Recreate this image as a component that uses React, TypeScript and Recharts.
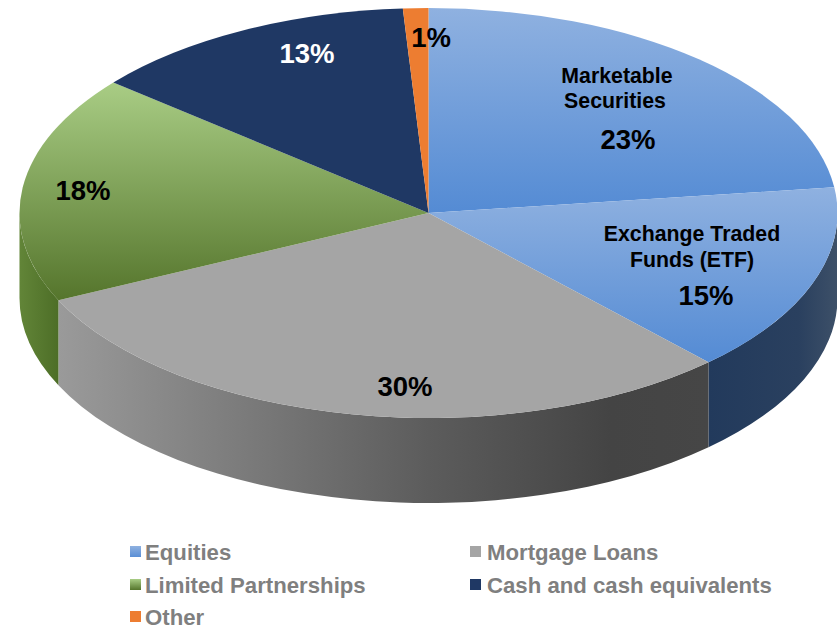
import { Legend, Pie, PieChart } from 'recharts'

const sliceNames = [
  'Marketable Securities',
  'Exchange Traded Funds (ETF)',
  'Mortgage Loans',
  'Limited Partnerships',
  'Cash and cash equivalents',
  'Other'
]
const sliceValues = [23, 15, 30, 18, 13, 1]

const legendNames = ['Equities', 'Mortgage Loans', 'Limited Partnerships', 'Cash and cash equivalents', 'Other']

const chartData = sliceNames.map((name, i) => ({ name, value: sliceValues[i] }))

const TILT = 0.501
const DEPTH = 85
const FONT = '"Liberation Sans", Arial, sans-serif'

const topFills = ['url(#blueTop)', 'url(#blueTop)', '#a5a5a5', 'url(#greenTop)', '#1f3864', '#ed7d31']
const wallFills = ['#223a5c', 'url(#blueWall)', 'url(#grayWall)', 'url(#greenWall)', '#1f3864', '#ed7d31']
const legendSwatches = [
  'linear-gradient(#8fb1e0, #5a8fd6)',
  '#a5a5a5',
  'linear-gradient(#a9cd85, #55752c)',
  '#1f3864',
  '#ed7d31'
]

// label placement, centre of each text line
const labelSpots = [
  { lines: [['Marketable', 617, 76], ['Securities', 615, 101]], pct: [628, 139], color: '#000' },
  { lines: [['Exchange Traded', 692, 234], ['Funds (ETF)', 692, 260]], pct: [706, 295], color: '#000' },
  { lines: [], pct: [405, 386], color: '#000' },
  { lines: [], pct: [83, 190], color: '#000' },
  { lines: [], pct: [307, 53], color: '#fff' },
  { lines: [], pct: [431, 37], color: '#000' }
]

const legendSpots = [
  { swatch: 130, text: 145, y: 552 },
  { swatch: 470, text: 487, y: 552 },
  { swatch: 130, text: 145, y: 585 },
  { swatch: 470, text: 487, y: 585 },
  { swatch: 130, text: 145, y: 617 }
]

const RAD = Math.PI / 180

function rim(cx: number, cy: number, rx: number, deg: number) {
  return [cx + rx * Math.cos(deg * RAD), cy - rx * TILT * Math.sin(deg * RAD)]
}

// squashed sector plus its outer wall, from the angles the Pie computed
function Slice3D(props: any) {
  const { cx, cy, outerRadius, startAngle, endAngle, name } = props
  const i = sliceNames.indexOf(name)
  const rx = outerRadius
  const ry = rx * TILT
  const [x0, y0] = rim(cx, cy, rx, startAngle)
  const [x1, y1] = rim(cx, cy, rx, endAngle)
  const large = Math.abs(startAngle - endAngle) > 180 ? 1 : 0
  const top = `M${cx},${cy}L${x0},${y0}A${rx},${ry} 0 ${large} 1 ${x1},${y1}Z`

  // only the part facing the viewer (0 to -180 degrees) shows a wall
  const a = Math.min(startAngle, 0)
  const b = Math.max(endAngle, -180)
  let wall = ''
  if (a > b) {
    const [wx0, wy0] = rim(cx, cy, rx, a)
    const [wx1, wy1] = rim(cx, cy, rx, b)
    wall =
      `M${wx0},${wy0}A${rx},${ry} 0 0 1 ${wx1},${wy1}` +
      `L${wx1},${wy1 + DEPTH}A${rx},${ry} 0 0 0 ${wx0},${wy0 + DEPTH}Z`
  }
  return (
    <g>
      {wall && <path d={wall} fill={wallFills[i]} />}
      <path d={top} fill={topFills[i]} />
    </g>
  )
}

function SliceLabel(props: any) {
  const spot = labelSpots[sliceNames.indexOf(props.name)]
  return (
    <g fontFamily={FONT} fontWeight='bold' fill={spot.color} textAnchor='middle'>
      {spot.lines.map((l: any) => (
        <text key={l[0]} x={l[1]} y={l[2]} dy='0.35em' fontSize={21.3}>
          {l[0]}
        </text>
      ))}
      <text x={spot.pct[0]} y={spot.pct[1]} dy='0.35em' fontSize={27.5}>
        {`${Math.round(props.percent * 100)}%`}
      </text>
    </g>
  )
}

function ChartLegend() {
  return (
    <div style={{ position: 'relative', width: 837, height: 627 }}>
      {legendNames.map((name, i) => {
        const s = legendSpots[i]
        return (
          <div key={name}>
            <div
              style={{
                position: 'absolute',
                left: s.swatch,
                top: s.y - 6,
                width: 11,
                height: 11,
                background: legendSwatches[i]
              }}
            />
            <div
              style={{
                position: 'absolute',
                left: s.text,
                top: s.y - 8,
                lineHeight: '18px',
                fontFamily: FONT,
                fontWeight: 'bold',
                fontSize: 22.2,
                color: '#7f7f7f',
                whiteSpace: 'nowrap'
              }}
            >
              {name}
            </div>
          </div>
        )
      })}
    </div>
  )
}

export default function App() {
  return (
    <div style={{ position: 'absolute', left: 0, top: 0, width: 837, height: 627, overflow: 'hidden', background: '#fff' }}>
      <PieChart width={837} height={627} margin={{ top: 0, right: 0, bottom: 0, left: 0 }}>
        <defs>
          <linearGradient id='blueTop' x1='0' y1='0' x2='0' y2='1'>
            <stop offset='0%' stopColor='#8fb1e0' />
            <stop offset='100%' stopColor='#548bd4' />
          </linearGradient>
          <linearGradient id='greenTop' x1='0' y1='0' x2='0' y2='1'>
            <stop offset='0%' stopColor='#a9cd85' />
            <stop offset='100%' stopColor='#55752c' />
          </linearGradient>
          <linearGradient id='grayWall' x1='0' y1='0' x2='1' y2='0'>
            <stop offset='0%' stopColor='#9a9a9a' />
            <stop offset='57%' stopColor='#5c5c5c' />
            <stop offset='85%' stopColor='#444444' />
            <stop offset='100%' stopColor='#464646' />
          </linearGradient>
          <linearGradient id='blueWall' x1='0' y1='0' x2='1' y2='0'>
            <stop offset='0%' stopColor='#223a5c' />
            <stop offset='70%' stopColor='#2a405f' />
            <stop offset='100%' stopColor='#3d5068' />
          </linearGradient>
          <linearGradient id='greenWall' x1='0' y1='0' x2='1' y2='0'>
            <stop offset='0%' stopColor='#628538' />
            <stop offset='100%' stopColor='#4d6e27' />
          </linearGradient>
        </defs>
        <Pie
          data={chartData}
          dataKey='value'
          nameKey='name'
          cx={428.5}
          cy={213}
          innerRadius={0}
          outerRadius={409}
          startAngle={90}
          endAngle={-270}
          stroke='none'
          isAnimationActive={false}
          shape={Slice3D}
          label={SliceLabel}
          labelLine={false}
        />
        <Legend content={<ChartLegend />} wrapperStyle={{ position: 'absolute', left: 0, top: 0, width: 837, height: 627 }} />
      </PieChart>
    </div>
  )
}
